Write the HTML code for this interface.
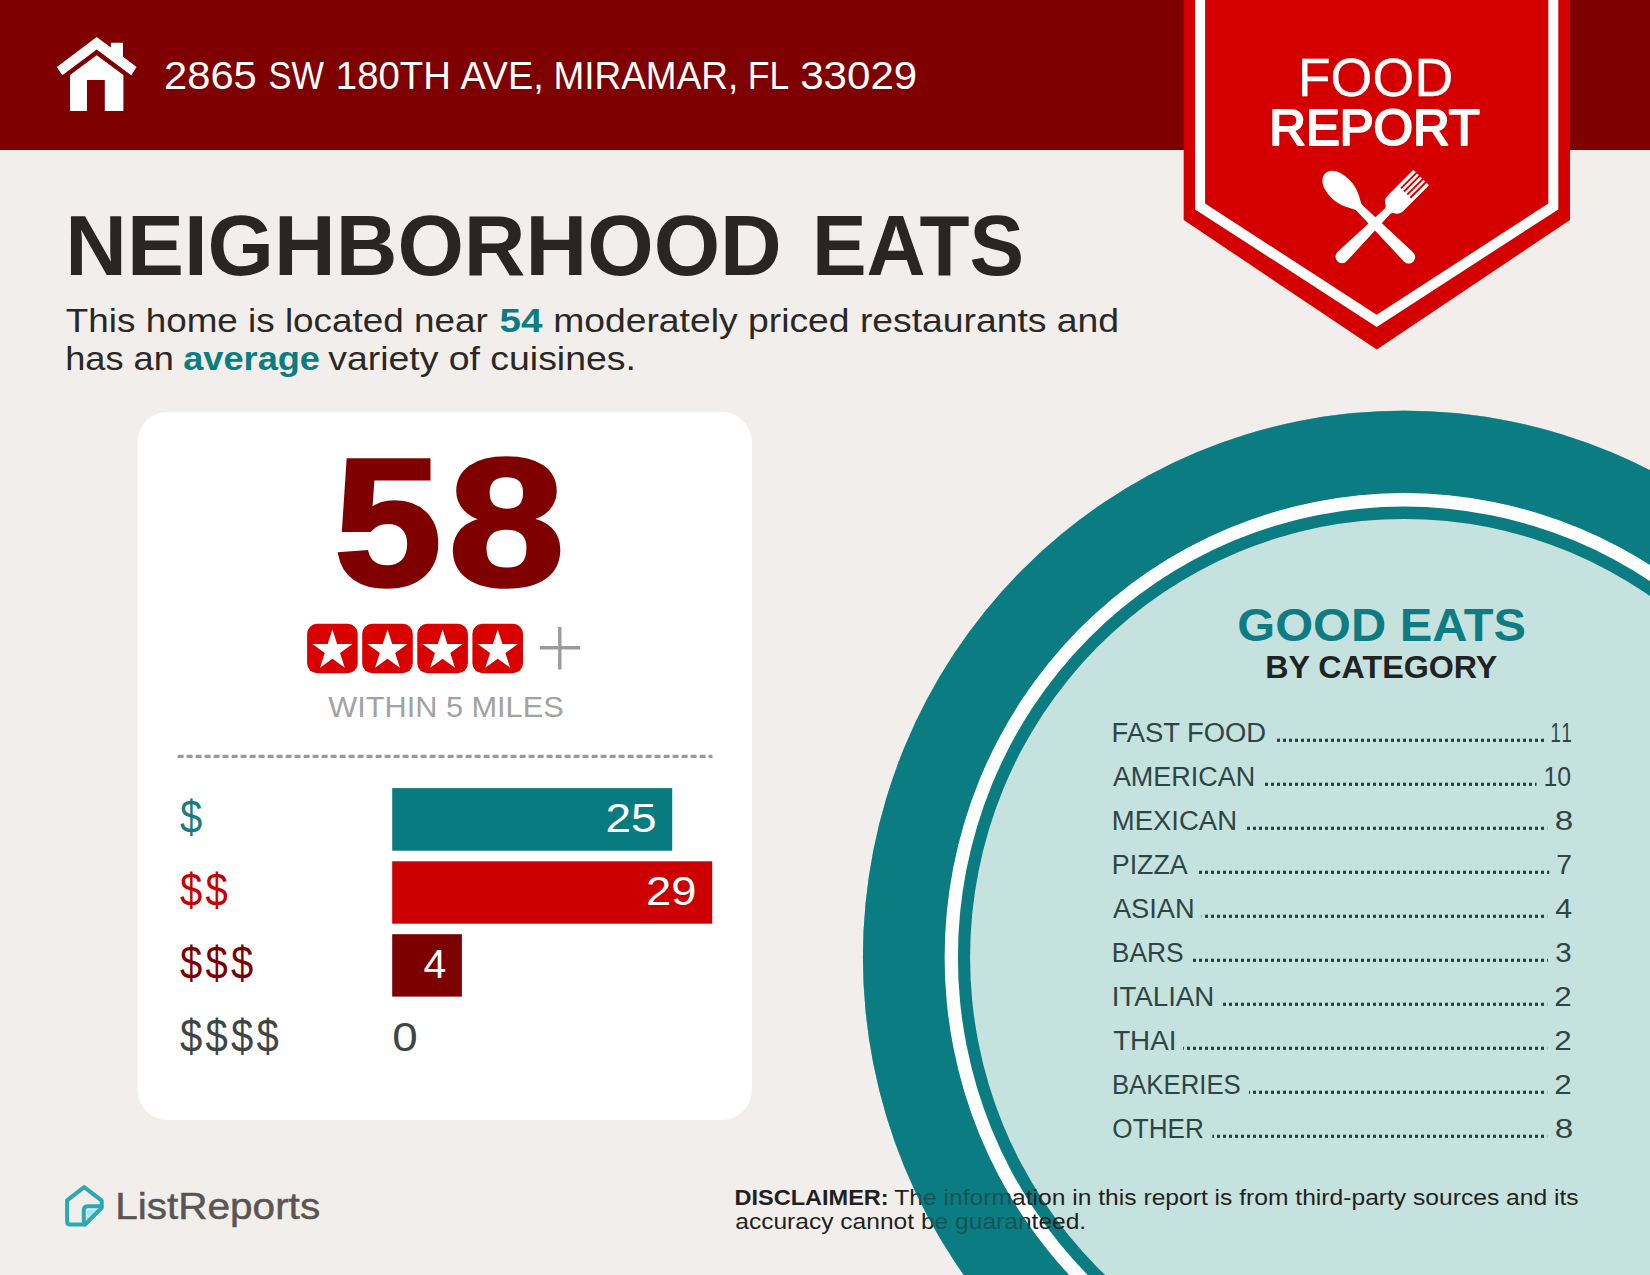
<!DOCTYPE html>
<html lang="en"><head><meta charset="utf-8"><title>Food Report - Neighborhood Eats</title>
<style>html,body{margin:0;padding:0;background:#f1eeeb;}body{width:1650px;height:1275px;overflow:hidden;}svg text{white-space:pre;}</style>
</head><body>
<svg width="1650" height="1275" viewBox="0 0 1650 1275" font-family="'Liberation Sans', sans-serif" style="display:block">
<defs>
<pattern id="dots" x="5" y="0" width="6" height="6" patternUnits="userSpaceOnUse"><rect x="0" y="0" width="3" height="6" fill="#2b3d3e"/></pattern>
<clipPath id="page"><rect x="0" y="0" width="1650" height="1275"/></clipPath>
</defs>
<rect width="1650" height="1275" fill="#f1eeeb"/>
<!-- plate -->
<g clip-path="url(#page)">
<ellipse cx="1404.1" cy="957.2" rx="541.15" ry="546.52" fill="#0a7c82"/>
<ellipse cx="1404.1" cy="957.2" rx="459.6" ry="464.16" fill="#fdfefe"/>
<ellipse cx="1404.1" cy="957.2" rx="446.2" ry="450.63" fill="#0a7c82"/>
<ellipse cx="1404.1" cy="957.2" rx="434.0" ry="438.31" fill="#c6e2de"/>
</g>
<g id="disclaimer">
<text><tspan x="734.53" y="1204.70" textLength="154.12" lengthAdjust="spacingAndGlyphs" font-size="22.67" font-weight="700" fill="#231f20">DISCLAIMER:</tspan> <tspan x="894.32" y="1204.70" textLength="684.35" lengthAdjust="spacingAndGlyphs" font-size="22.67" font-weight="400" fill="#231f20">The information in this report is from third-party sources and its</tspan></text>
<text><tspan x="735.23" y="1229.20" textLength="350.99" lengthAdjust="spacingAndGlyphs" font-size="22.67" font-weight="400" fill="#231f20">accuracy cannot be guaranteed.</tspan></text>
</g>
<g clip-path="url(#page)">
<path d="M862.95 957.2 A541.15 546.52 0 1 0 1945.25 957.2 A541.15 546.52 0 1 0 862.95 957.2 Z M944.50 957.2 A459.6 464.16 0 1 0 1863.70 957.2 A459.6 464.16 0 1 0 944.50 957.2 Z" fill="#0a7c82" fill-rule="evenodd" opacity="0.56"/>
</g>
<!-- header -->
<rect x="0" y="0" width="1650" height="150" fill="#7f0000"/>
<!-- house icon -->
<g fill="#fff">
<polygon points="96.7,37 110.9,47.6 110.9,42.8 123,42.8 123,56.7 136.6,66.9 131.2,75.2 96.7,49.6 62.3,75.2 56.9,66.9"/>
<path d="M96.7 55.2 L123.4 75.1 L123.4 110.9 L104.8 110.9 L104.8 80 L87 80 L87 110.9 L70 110.9 L70 75.1 Z"/>
</g>
<!-- ribbon -->
<polygon points="1183.7,0 1570,0 1570,220 1376.8,349.5 1183.7,220" fill="#d40000"/>
<polygon points="1195.1,0 1558.3,0 1558.3,209.4 1376.7,326.9 1195.1,209.4" fill="#fff"/>
<polygon points="1205.1,0 1548.3,0 1548.3,203.5 1376.7,314.8 1205.1,203.5" fill="#d40000"/>
<!-- fork & spoon -->
<g id="utensils" fill="#fff">
<g transform="translate(1421.2 177.5) rotate(45)">
<path d="M-11 0 L11 0 L11 36 C11 41.5 8 43.5 5.5 44.8 C4.2 45.8 3.9 47 3.9 49 L6.5 112 A6.5 6.5 0 0 1 -6.5 112 L-3.9 49 C-3.9 47 -4.2 45.8 -5.5 44.8 C-8 43.5 -11 41.5 -11 36 Z"/>
<g fill="#d40000"><rect x="-7.6" y="-1" width="1.9" height="23"/><rect x="-3.2" y="-1" width="1.9" height="23"/><rect x="1.3" y="-1" width="1.9" height="23"/><rect x="5.7" y="-1" width="1.9" height="23"/></g>
</g>
<g transform="translate(1325.1 173.5) rotate(-45)">
<path d="M0 0 C7.5 0 12.7 9 12.7 22 C12.7 33 8 40 4 47.5 L6.5 118.2 A6.5 6.5 0 0 1 -6.5 118.2 L-4 47.5 C-8 40 -12.7 33 -12.7 22 C-12.7 9 -7.5 0 0 0 Z"/>
</g>
</g>
<!-- card -->
<rect x="137.6" y="412" width="614.3" height="708" rx="30" ry="30" fill="#fff"/>
<rect x="307.1" y="623.7" width="50.6" height="49.5" rx="10" ry="10" fill="#d90000"/><polygon points="332.40,629.50 337.13,644.09 352.47,644.08 340.06,653.09 344.80,667.67 332.40,658.65 320.00,667.67 324.74,653.09 312.33,644.08 327.67,644.09" fill="#fff"/><rect x="362.2" y="623.7" width="50.6" height="49.5" rx="10" ry="10" fill="#d90000"/><polygon points="387.50,629.50 392.23,644.09 407.57,644.08 395.16,653.09 399.90,667.67 387.50,658.65 375.10,667.67 379.84,653.09 367.43,644.08 382.77,644.09" fill="#fff"/><rect x="417.3" y="623.7" width="50.6" height="49.5" rx="10" ry="10" fill="#d90000"/><polygon points="442.60,629.50 447.33,644.09 462.67,644.08 450.26,653.09 455.00,667.67 442.60,658.65 430.20,667.67 434.94,653.09 422.53,644.08 437.87,644.09" fill="#fff"/><rect x="472.4" y="623.7" width="50.6" height="49.5" rx="10" ry="10" fill="#d90000"/><polygon points="497.70,629.50 502.43,644.09 517.77,644.08 505.36,653.09 510.10,667.67 497.70,658.65 485.30,667.67 490.04,653.09 477.63,644.08 492.97,644.09" fill="#fff"/>
<g stroke="#9b9b9b" stroke-width="3.4" fill="none"><path d="M540 647.8 H580 M559.8 627 V669.4"/></g>
<line x1="177.6" y1="756.4" x2="712.5" y2="756.4" stroke="#9a9a9a" stroke-width="3.2" stroke-dasharray="6 3"/>
<rect x="392.2" y="788.1" width="280" height="62.6" fill="#087b80"/>
<rect x="392.2" y="861.3" width="320" height="62.4" fill="#cc0000"/>
<rect x="392.2" y="934.2" width="69.7" height="62.4" fill="#7d0000"/>
<rect x="1274.5" y="738.7" width="270.0" height="3.2" fill="url(#dots)"/><rect x="1262.3" y="782.7" width="274.2" height="3.2" fill="url(#dots)"/><rect x="1244.1" y="826.7" width="303.1" height="3.2" fill="url(#dots)"/><rect x="1197.2" y="870.7" width="352.0" height="3.2" fill="url(#dots)"/><rect x="1201.7" y="914.7" width="345.5" height="3.2" fill="url(#dots)"/><rect x="1191.9" y="958.7" width="355.9" height="3.2" fill="url(#dots)"/><rect x="1221.4" y="1002.7" width="325.8" height="3.2" fill="url(#dots)"/><rect x="1183.2" y="1046.7" width="364.0" height="3.2" fill="url(#dots)"/><rect x="1249.0" y="1090.7" width="298.2" height="3.2" fill="url(#dots)"/><rect x="1212.3" y="1134.7" width="334.9" height="3.2" fill="url(#dots)"/>
<!-- logo -->
<g id="logo" fill="none" stroke="#2aa9b4" stroke-width="4" stroke-linejoin="round" stroke-linecap="round">
<path d="M87 1209.5 L98 1209.5 L87 1220.5 Z" fill="#a4ebf1" stroke="none"/>
<path d="M84.2 1187.1 L67.1 1200.4 L67.1 1221.5 Q67.1 1224.5 70.1 1224.5 L85.1 1224.5 L101.7 1207.9 L101.7 1200.6 Z"/>
<path d="M83.8 1224.5 L83.8 1210.3 Q83.8 1206.3 87.8 1206.3 L101.7 1206.3"/>
</g>
<text><tspan x="164.05" y="88.50" textLength="92.74" lengthAdjust="spacingAndGlyphs" font-size="38.08" font-weight="400" fill="#fff">2865</tspan> <tspan x="268.53" y="88.50" textLength="55.36" lengthAdjust="spacingAndGlyphs" font-size="38.08" font-weight="400" fill="#fff">SW</tspan> <tspan x="335.80" y="88.50" textLength="115.12" lengthAdjust="spacingAndGlyphs" font-size="38.08" font-weight="400" fill="#fff">180TH</tspan> <tspan x="460.40" y="88.50" textLength="83.32" lengthAdjust="spacingAndGlyphs" font-size="38.08" font-weight="400" fill="#fff">AVE,</tspan> <tspan x="553.51" y="88.50" textLength="184.75" lengthAdjust="spacingAndGlyphs" font-size="38.08" font-weight="400" fill="#fff">MIRAMAR,</tspan> <tspan x="747.82" y="88.50" textLength="41.46" lengthAdjust="spacingAndGlyphs" font-size="38.08" font-weight="400" fill="#fff">FL</tspan> <tspan x="800.18" y="88.50" textLength="117.02" lengthAdjust="spacingAndGlyphs" font-size="38.08" font-weight="400" fill="#fff">33029</tspan></text>
<text><tspan x="65.26" y="274.80" textLength="716.50" lengthAdjust="spacingAndGlyphs" font-size="85.17" font-weight="700" fill="#2a2523">NEIGHBORHOOD</tspan> <tspan x="811.89" y="274.80" textLength="212.17" lengthAdjust="spacingAndGlyphs" font-size="85.17" font-weight="700" fill="#2a2523">EATS</tspan></text>
<text><tspan x="65.82" y="332.30" textLength="421.86" lengthAdjust="spacingAndGlyphs" font-size="33.72" font-weight="400" fill="#2b2725">This home is located near</tspan> <tspan x="499.60" y="332.30" textLength="42.86" lengthAdjust="spacingAndGlyphs" font-size="33.72" font-weight="700" fill="#0a7c82">54</tspan> <tspan x="553.17" y="332.30" textLength="565.92" lengthAdjust="spacingAndGlyphs" font-size="33.72" font-weight="400" fill="#2b2725">moderately priced restaurants and</tspan></text>
<text><tspan x="65.24" y="369.50" textLength="108.59" lengthAdjust="spacingAndGlyphs" font-size="33.72" font-weight="400" fill="#2b2725">has an</tspan> <tspan x="183.23" y="369.50" textLength="136.77" lengthAdjust="spacingAndGlyphs" font-size="33.72" font-weight="700" fill="#0a7c82">average</tspan> <tspan x="328.20" y="369.50" textLength="307.68" lengthAdjust="spacingAndGlyphs" font-size="33.72" font-weight="400" fill="#2b2725">variety of cuisines.</tspan></text>
<text><tspan x="1297.69" y="95.80" textLength="155.68" lengthAdjust="spacingAndGlyphs" font-size="53.78" font-weight="400" fill="#fff" stroke="#fff" stroke-width="0.3">FOOD</tspan></text>
<text><tspan x="1269.23" y="144.50" textLength="210.63" lengthAdjust="spacingAndGlyphs" font-size="50.00" font-weight="400" fill="#fff" stroke="#fff" stroke-width="2.1" stroke-linejoin="round">REPORT</tspan></text>
<text><tspan x="334.07" y="585.20" textLength="107.75" lengthAdjust="spacingAndGlyphs" font-size="182.00" font-weight="700" fill="#7f0000" stroke="#7f0000" stroke-width="3.6" stroke-linejoin="miter">5</tspan><tspan x="448.16" y="585.20" textLength="116.46" lengthAdjust="spacingAndGlyphs" font-size="182.00" font-weight="700" fill="#7f0000" stroke="#7f0000" stroke-width="3.6">8</tspan></text>
<text><tspan x="328.20" y="717.20" textLength="235.49" lengthAdjust="spacingAndGlyphs" font-size="29.36" font-weight="400" fill="#a2a2a2">WITHIN 5 MILES</tspan></text>
<text><tspan x="180.00" y="832.80" textLength="22.27" lengthAdjust="spacingAndGlyphs" font-size="46.00" font-weight="400" fill="#1b7c80">$</tspan></text>
<text><tspan x="180.00" y="905.90" textLength="22.27" lengthAdjust="spacingAndGlyphs" font-size="46.00" font-weight="400" fill="#c80000">$</tspan><tspan x="205.50" y="905.90" textLength="22.27" lengthAdjust="spacingAndGlyphs" font-size="46.00" font-weight="400" fill="#c80000">$</tspan></text>
<text><tspan x="180.00" y="979.00" textLength="22.27" lengthAdjust="spacingAndGlyphs" font-size="46.00" font-weight="400" fill="#7d0000">$</tspan><tspan x="205.50" y="979.00" textLength="22.27" lengthAdjust="spacingAndGlyphs" font-size="46.00" font-weight="400" fill="#7d0000">$</tspan><tspan x="231.00" y="979.00" textLength="22.27" lengthAdjust="spacingAndGlyphs" font-size="46.00" font-weight="400" fill="#7d0000">$</tspan></text>
<text><tspan x="180.00" y="1052.10" textLength="22.27" lengthAdjust="spacingAndGlyphs" font-size="46.00" font-weight="400" fill="#3f4545">$</tspan><tspan x="205.50" y="1052.10" textLength="22.27" lengthAdjust="spacingAndGlyphs" font-size="46.00" font-weight="400" fill="#3f4545">$</tspan><tspan x="231.00" y="1052.10" textLength="22.27" lengthAdjust="spacingAndGlyphs" font-size="46.00" font-weight="400" fill="#3f4545">$</tspan><tspan x="256.50" y="1052.10" textLength="22.27" lengthAdjust="spacingAndGlyphs" font-size="46.00" font-weight="400" fill="#3f4545">$</tspan></text>
<text><tspan x="605.55" y="831.60" textLength="51.12" lengthAdjust="spacingAndGlyphs" font-size="41.00" font-weight="400" fill="#fff">25</tspan></text>
<text><tspan x="646.07" y="904.70" textLength="50.47" lengthAdjust="spacingAndGlyphs" font-size="41.00" font-weight="400" fill="#fff">29</tspan></text>
<text><tspan x="423.56" y="977.80" textLength="22.87" lengthAdjust="spacingAndGlyphs" font-size="41.00" font-weight="400" fill="#fff">4</tspan></text>
<text><tspan x="392.17" y="1050.90" textLength="25.47" lengthAdjust="spacingAndGlyphs" font-size="41.00" font-weight="400" fill="#3f4545">0</tspan></text>
<text><tspan x="1237.28" y="640.60" textLength="288.81" lengthAdjust="spacingAndGlyphs" font-size="46.51" font-weight="700" fill="#0e7c82">GOOD EATS</tspan></text>
<text><tspan x="1265.19" y="677.70" textLength="232.15" lengthAdjust="spacingAndGlyphs" font-size="30.96" font-weight="700" fill="#222222">BY CATEGORY</tspan></text>
<text><tspan x="1111.47" y="741.70" textLength="154.68" lengthAdjust="spacingAndGlyphs" font-size="27.62" font-weight="400" fill="#2e4546">FAST FOOD</tspan></text>
<text><tspan x="1550.44" y="741.70" textLength="10.31" lengthAdjust="spacingAndGlyphs" font-size="27.62" font-weight="400" fill="#2e4546">1</tspan><tspan x="1561.44" y="741.70" textLength="10.31" lengthAdjust="spacingAndGlyphs" font-size="27.62" font-weight="400" fill="#2e4546">1</tspan></text>
<text><tspan x="1112.90" y="785.70" textLength="142.30" lengthAdjust="spacingAndGlyphs" font-size="27.62" font-weight="400" fill="#2e4546">AMERICAN</tspan></text>
<text><tspan x="1543.45" y="785.70" textLength="27.57" lengthAdjust="spacingAndGlyphs" font-size="27.62" font-weight="400" fill="#2e4546">10</tspan></text>
<text><tspan x="1111.75" y="829.70" textLength="125.29" lengthAdjust="spacingAndGlyphs" font-size="27.62" font-weight="400" fill="#2e4546">MEXICAN</tspan></text>
<text><tspan x="1554.66" y="829.70" textLength="18.49" lengthAdjust="spacingAndGlyphs" font-size="27.62" font-weight="400" fill="#2e4546">8</tspan></text>
<text><tspan x="1111.81" y="873.70" textLength="75.96" lengthAdjust="spacingAndGlyphs" font-size="27.62" font-weight="400" fill="#2e4546">PIZZA</tspan></text>
<text><tspan x="1556.37" y="873.70" textLength="15.78" lengthAdjust="spacingAndGlyphs" font-size="27.62" font-weight="400" fill="#2e4546">7</tspan></text>
<text><tspan x="1112.90" y="917.70" textLength="81.72" lengthAdjust="spacingAndGlyphs" font-size="27.62" font-weight="400" fill="#2e4546">ASIAN</tspan></text>
<text><tspan x="1555.23" y="917.70" textLength="16.83" lengthAdjust="spacingAndGlyphs" font-size="27.62" font-weight="400" fill="#2e4546">4</tspan></text>
<text><tspan x="1111.84" y="961.70" textLength="71.87" lengthAdjust="spacingAndGlyphs" font-size="27.62" font-weight="400" fill="#2e4546">BARS</tspan></text>
<text><tspan x="1555.38" y="961.70" textLength="16.42" lengthAdjust="spacingAndGlyphs" font-size="27.62" font-weight="400" fill="#2e4546">3</tspan></text>
<text><tspan x="1111.74" y="1005.70" textLength="102.62" lengthAdjust="spacingAndGlyphs" font-size="27.62" font-weight="400" fill="#2e4546">ITALIAN</tspan></text>
<text><tspan x="1554.23" y="1005.70" textLength="17.44" lengthAdjust="spacingAndGlyphs" font-size="27.62" font-weight="400" fill="#2e4546">2</tspan></text>
<text><tspan x="1113.17" y="1049.70" textLength="63.24" lengthAdjust="spacingAndGlyphs" font-size="27.62" font-weight="400" fill="#2e4546">THAI</tspan></text>
<text><tspan x="1554.23" y="1049.70" textLength="17.44" lengthAdjust="spacingAndGlyphs" font-size="27.62" font-weight="400" fill="#2e4546">2</tspan></text>
<text><tspan x="1111.89" y="1093.70" textLength="128.90" lengthAdjust="spacingAndGlyphs" font-size="27.62" font-weight="400" fill="#2e4546">BAKERIES</tspan></text>
<text><tspan x="1554.23" y="1093.70" textLength="17.44" lengthAdjust="spacingAndGlyphs" font-size="27.62" font-weight="400" fill="#2e4546">2</tspan></text>
<text><tspan x="1112.37" y="1137.70" textLength="91.53" lengthAdjust="spacingAndGlyphs" font-size="27.62" font-weight="400" fill="#2e4546">OTHER</tspan></text>
<text><tspan x="1554.66" y="1137.70" textLength="18.49" lengthAdjust="spacingAndGlyphs" font-size="27.62" font-weight="400" fill="#2e4546">8</tspan></text>
<text><tspan x="115.23" y="1218.70" textLength="204.93" lengthAdjust="spacingAndGlyphs" font-size="37.79" font-weight="400" fill="#5a5553" stroke="#5a5553" stroke-width="0.5">ListReports</tspan></text>
</svg>
</body></html>
